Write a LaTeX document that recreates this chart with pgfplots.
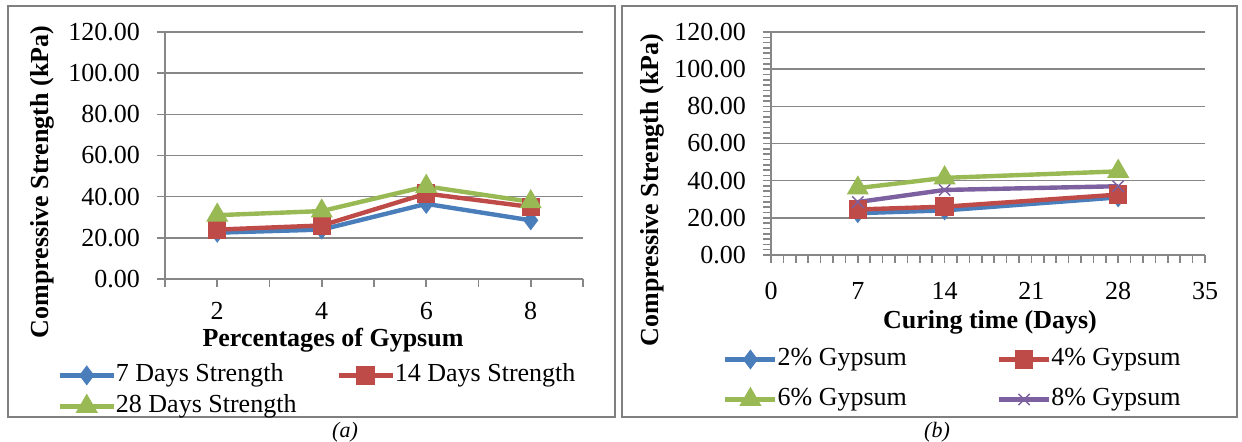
\documentclass[border=0pt]{standalone}
\usepackage{pgfplots}
\pgfplotsset{compat=1.18}
\usepackage{fontspec}
\setmainfont{Liberation Serif}

\definecolor{sblue}{HTML}{4A7EBB}
\definecolor{sred}{HTML}{BE4B48}
\definecolor{sgreen}{HTML}{98B954}
\definecolor{spurple}{HTML}{7D60A0}
\definecolor{axgray}{HTML}{878787}
\definecolor{framegray}{HTML}{7F7F7F}

\pgfplotsset{
  panel/.style={
    scale only axis,
    axis lines=left,
    axis line style={-, draw=axgray, line width=0.9pt},
    ymin=0, ymax=120, ytick={0,20,...,120},
    ymajorgrids, grid style={axgray, line width=0.8pt},
    tick align=outside, major tick length=4pt, minor tick length=4pt,
    tick style={axgray, line width=0.8pt},
    /pgf/number format/assume math mode=true,
    y tick label style={/pgf/number format/fixed, /pgf/number format/fixed zerofill,
      /pgf/number format/precision=2, xshift=-5pt},
    tick label style={font=\fontsize{13}{15}\selectfont},
    legend style={draw=none, fill=none, inner sep=0pt, anchor=north west,
      font=\fontsize{13}{15}\selectfont,
      nodes={inner sep=0pt, text height=9pt, text depth=3pt}},
    legend columns=2,
    legend cell align=left,
  },
  s7/.style={sblue, line width=2.2pt, mark=diamond*, mark size=3.2pt},
  s14/.style={sred, line width=2.2pt, mark=square*, mark size=3.5pt},
  s28/.style={sgreen, line width=2.2pt, mark=triangle*, mark size=4.2pt},
  s8/.style={spurple, line width=2.2pt, mark=x, mark size=4pt, mark options={line width=0.7pt}},
}

\begin{document}
\begin{tikzpicture}
\begin{scope}[x=0.5pt,y=-0.5pt]
\useasboundingbox (0,0) rectangle (1242,442);
\draw[framegray, line width=1.1pt] (8,6) rectangle (615,417);
\draw[framegray, line width=1.1pt] (622,6) rectangle (1237,417);
\node[font=\fontsize{11}{13}\selectfont\itshape] at (345,432) {(a)};
\node[font=\fontsize{11}{13}\selectfont\itshape] at (937,432) {(b)};
\node[rotate=90, font=\fontsize{13}{15}\selectfont\bfseries] at (42,182) {Compressive Strength (kPa)};
\node[font=\fontsize{13}{15}\selectfont\bfseries] at (333,340) {Percentages of Gypsum};
\node[rotate=90, font=\fontsize{13}{15}\selectfont\bfseries] at (652,190) {Compressive Strength (kPa)};
\node[font=\fontsize{13}{15}\selectfont\bfseries] at (990,322) {Curing time (Days)};
\end{scope}

% (a) strength against gypsum content
\begin{axis}[panel,
  at={(82.5pt,-139.5pt)}, anchor=south west,
  width=209pt, height=123.5pt,
  xmin=0.5, xmax=4.5,
  xtick={1,2,3,4}, xticklabels={2,4,6,8},
  minor xtick={0.5,1.5,2.5,3.5,4.5},
  x tick label style={yshift=-4pt},
  legend style={at={(-0.258,-0.340)},
    /tikz/every even column/.append style={column sep=20pt},
    /tikz/row sep=3.5pt},
  legend image code/.code={\draw[mark repeat=2,mark phase=2] plot coordinates {(0pt,0pt) (13.5pt,0pt) (27pt,0pt)};},
]
\addplot[s7] coordinates {(1,22.5) (2,24) (3,36.5) (4,28.5)};
\addplot[s14] coordinates {(1,24) (2,26) (3,41.5) (4,35)};
\addplot[s28] coordinates {(1,31) (2,33) (3,45) (4,37.5)};
\legend{7 Days Strength, 14 Days Strength, 28 Days Strength}
\end{axis}

% (b) strength against curing time
\begin{axis}[panel,
  at={(385.5pt,-127.5pt)}, anchor=south west,
  width=217pt, height=111.5pt,
  xmin=0, xmax=35,
  xtick={0,7,...,35}, minor tick num=6,
  x tick label style={yshift=-6pt},
  legend style={at={(-0.111,-0.413)},
    /tikz/every even column/.append style={column sep=45pt},
    /tikz/row sep=8pt},
  legend image code/.code={\draw[mark repeat=2,mark phase=2] plot coordinates {(0pt,0pt) (12.5pt,0pt) (25pt,0pt)};},
]
\addplot[s7] coordinates {(7,22.5) (14,24) (28,31)};
\addplot[s14] coordinates {(7,24.5) (14,26) (28,32.5)};
\addplot[s28] coordinates {(7,36) (14,41.5) (28,45)};
\addplot[s8] coordinates {(7,28.5) (14,35) (28,37)};
\legend{2\% Gypsum, 4\% Gypsum, 6\% Gypsum, 8\% Gypsum}
\end{axis}
\end{tikzpicture}
\end{document}
